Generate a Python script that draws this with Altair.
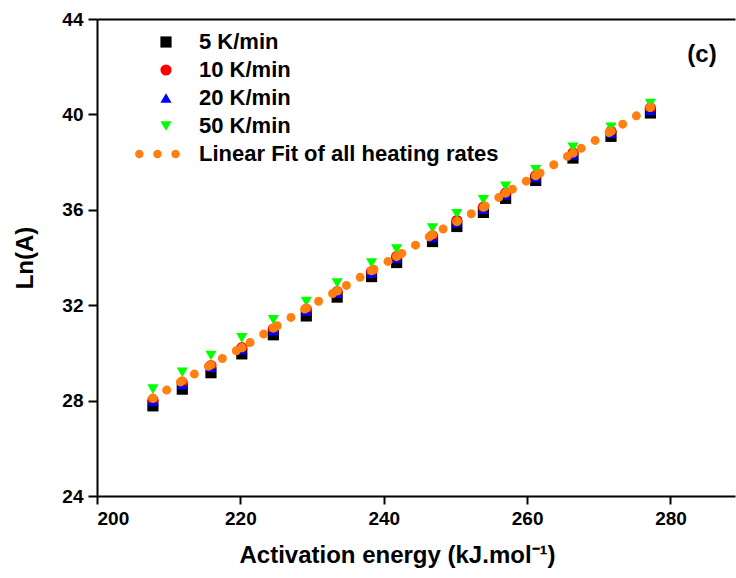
import altair as alt
import pandas as pd

# ---- data ----
energy = [207.8, 211.9, 215.9, 220.2, 224.6, 229.2, 233.5, 238.3, 241.8,
          246.8, 250.2, 253.9, 257.0, 261.2, 266.4, 271.7, 277.2]
ln_a_5 = [27.78, 28.48, 29.17, 29.96, 30.76, 31.55, 32.34, 33.20, 33.79,
          34.67, 35.30, 35.89, 36.48, 37.23, 38.17, 39.08, 40.06]
ln_a_10 = [28.03, 28.75, 29.47, 30.22, 31.00, 31.83, 32.57, 33.41, 34.04,
           34.91, 35.55, 36.11, 36.70, 37.43, 38.38, 39.29, 40.27]
ln_a_20 = [27.97, 28.68, 29.40, 30.15, 30.93, 31.76, 32.50, 33.34, 33.97,
           34.84, 35.47, 36.03, 36.62, 37.35, 38.30, 39.21, 40.18]
ln_a_50 = [28.48, 29.19, 29.89, 30.63, 31.39, 32.15, 32.93, 33.77, 34.35,
           35.23, 35.83, 36.42, 36.98, 37.68, 38.62, 39.46, 40.45]
fit_vals = [28.10, 28.83, 29.50, 30.22, 31.04, 31.88, 32.60, 33.45, 34.04,
            34.95, 35.51, 36.11, 36.70, 37.43, 38.38, 39.29, 40.30]

series_names = ["5 K/min", "10 K/min", "20 K/min", "50 K/min",
                "Linear Fit of all heating rates"]
series_colors = ["#000000", "#ff0000", "#0000ff", "#00ff00", "#ff8010"]
fit_symbol = ("M-5.53,0A0.76,0.76 0 1,0 -4.01,0A0.76,0.76 0 1,0 -5.53,0Z "
              "M-2.29,0A0.76,0.76 0 1,0 -0.77,0A0.76,0.76 0 1,0 -2.29,0Z "
              "M0.96,0A0.76,0.76 0 1,0 2.48,0A0.76,0.76 0 1,0 0.96,0Z")
series_shapes = ["square", "circle", "triangle-up", "triangle-down", fit_symbol]
series_sizes = [125, 125, 150, 175, 100]

annot_text = ["(c)"]
annot_x = [284.4]
annot_y = [42.5]

x_ticks = [200, 220, 240, 260, 280]
y_ticks = [24, 28, 32, 36, 40, 44]

FONT = "Liberation Sans"
ORANGE = "#ff8010"

rows = []
order = 0
for name, vals in zip(series_names[:4], [ln_a_5, ln_a_10, ln_a_20, ln_a_50]):
    for e, v in zip(energy, vals):
        rows.append({"energy": e, "ln_a": v, "series": name, "idx": order})
        order += 1
df = pd.DataFrame(rows)
fit_df = pd.DataFrame({"energy": energy, "ln_a": fit_vals})
annot_df = pd.DataFrame({"energy": annot_x, "ln_a": annot_y, "t": annot_text})

xscale = alt.Scale(domain=[200, 289], nice=False, zero=False)
yscale = alt.Scale(domain=[24, 44], nice=False, zero=False)

x_axis = alt.Axis(orient="bottom", values=x_ticks, title="Activation energy (kJ.mol⁻¹)",
                  tickSize=8, labelPadding=5, titlePadding=15, format="d",
                  titleX=300, titleAnchor="middle", titleAlign="center")
y_axis = alt.Axis(values=y_ticks, title="Ln(A)", tickSize=9,
                  labelPadding=5, titlePadding=24, format="d")

legend = alt.Legend(
    title=None, orient="none", legendX=58, legendY=12,
    labelFont=FONT, labelFontSize=22, labelFontWeight="bold", labelColor="black",
    labelLimit=0, symbolSize=110, symbolStrokeWidth=0, rowPadding=6,
    labelOffset=22, padding=0,
)

points = alt.Chart(df).mark_point(filled=True, opacity=1).encode(
    x=alt.X("energy:Q", scale=xscale, axis=x_axis),
    y=alt.Y("ln_a:Q", scale=yscale, axis=y_axis),
    color=alt.Color("series:N", scale=alt.Scale(domain=series_names, range=series_colors), legend=legend),
    shape=alt.Shape("series:N", scale=alt.Scale(domain=series_names, range=series_shapes), legend=legend),
    size=alt.Size("series:N", scale=alt.Scale(domain=series_names, range=series_sizes), legend=None),
    order=alt.Order("idx:Q"),
)

fit_line = alt.Chart(fit_df).mark_line(
    color=ORANGE, strokeWidth=9, strokeDash=[0, 16], strokeCap="round"
).encode(
    x=alt.X("energy:Q", scale=xscale, axis=x_axis),
    y=alt.Y("ln_a:Q", scale=yscale, axis=y_axis),
)

fit_dots = alt.Chart(fit_df).mark_circle(color=ORANGE, size=85, opacity=1).encode(
    x=alt.X("energy:Q", scale=xscale, axis=x_axis),
    y=alt.Y("ln_a:Q", scale=yscale, axis=y_axis),
)

annot = alt.Chart(annot_df).mark_text(
    font=FONT, fontSize=24, fontWeight="bold", color="black"
).encode(
    x=alt.X("energy:Q", scale=xscale, axis=x_axis),
    y=alt.Y("ln_a:Q", scale=yscale, axis=y_axis),
    text="t:N",
)

main = alt.layer(points, fit_line, fit_dots, annot)

top_frame = alt.Chart(fit_df).mark_point(opacity=0).encode(
    x=alt.X("energy:Q", scale=xscale,
            axis=alt.Axis(orient="top", labels=False, ticks=False, title=None, grid=False)),
    y=alt.Y("ln_a:Q", scale=yscale, axis=y_axis),
)

chart = alt.layer(main, top_frame).resolve_axis(
    x="independent"
).properties(
    width=638, height=477,
    background="white",
    autosize=alt.AutoSizeParams(type="none"),
    padding={"left": 97, "top": 19, "right": 1, "bottom": 80},
).configure_axis(
    labelFont=FONT, labelFontSize=19, labelFontWeight="bold", labelColor="black",
    titleFont=FONT, titleFontSize=24, titleFontWeight="bold", titleColor="black",
    domainColor="black", domainWidth=2, tickColor="black", tickWidth=2, grid=False,
).configure_view(stroke=None)

chart.save("out.html", embed_options={"renderer": "svg", "actions": False})
